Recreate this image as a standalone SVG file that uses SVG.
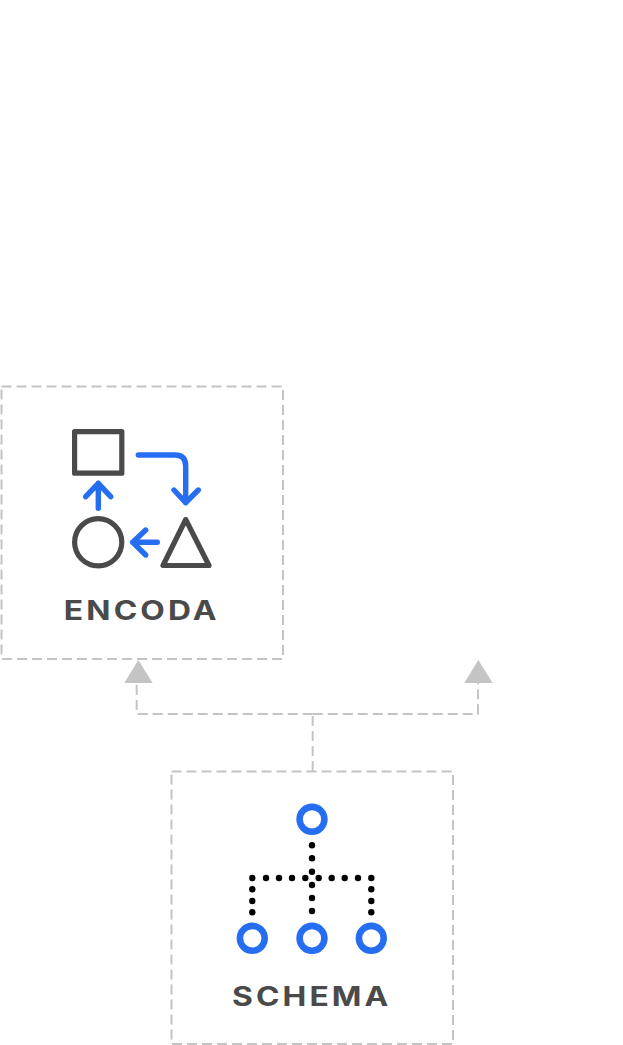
<svg xmlns="http://www.w3.org/2000/svg" width="623" height="1045" viewBox="0 0 623 1045">
<style>
.box{fill:none;stroke:#c4c4c4;stroke-width:2;stroke-dasharray:10 5}
.conn{fill:none;stroke:#c4c4c4;stroke-width:2;stroke-dasharray:10 5}
.head{fill:#c4c4c4}
.dark{fill:none;stroke:#4a4a4a;stroke-width:5.2;stroke-linejoin:round}
.blue{fill:none;stroke:#266ef1;stroke-width:5.4;stroke-linecap:round;stroke-linejoin:round}
.ring{fill:none;stroke:#266ef1;stroke-width:6.6}
.label{font-family:"Inter","Liberation Sans",sans-serif;font-weight:700;font-size:26.5px;fill:#4a4a4a;text-anchor:middle;letter-spacing:2.6px}
.dots circle{fill:#000;r:3.2px}
</style>
<rect width="623" height="1045" fill="#fff"/>
<g id="connectors">
<path class="conn" d="M312.7 771V714"/>
<path class="conn" d="M312.7 714H136.7V682"/>
<path class="conn" d="M312.7 714H478V682"/>
<polygon class="head" points="138.3,660 152.7,683 124.3,683"/>
<polygon class="head" points="478.3,660 492.7,683 464.3,683"/>
</g>
<g id="encoda">
<rect class="box" x="1.5" y="386.5" width="281.5" height="272.5"/>
<rect class="dark" x="74.6" y="431.6" width="47.2" height="41.6"/>
<circle class="dark" cx="98.2" cy="542.3" r="23.6"/>
<polygon class="dark" points="185.7,519.5 163,565.5 209,565.5"/>
<path class="blue" d="M138.3 455H175Q185.7 455 185.7 466V502.7M174 490L185.7 502.7L198.3 490"/>
<path class="blue" d="M98.3 508.3V483.3M85.7 496.7L98.3 483.3L110.7 496.7"/>
<path class="blue" d="M157.3 542.3H132.7M145.7 530L132.7 542.3L145.7 555"/>
<text class="label" transform="translate(141.7 620) scale(1.2 1)">ENCODA</text>
</g>
<g id="schema">
<rect class="box" x="171.5" y="771.5" width="281.5" height="272.5"/>
<circle class="ring" cx="312" cy="819.3" r="12.4"/>
<circle class="ring" cx="252.3" cy="938.3" r="12.4"/>
<circle class="ring" cx="312" cy="938.3" r="12.4"/>
<circle class="ring" cx="371.3" cy="938.3" r="12.4"/>
<g class="dots">
<circle cx="252.3" cy="878"/><circle cx="266" cy="878"/><circle cx="279" cy="878"/><circle cx="292" cy="878"/><circle cx="305.3" cy="878"/><circle cx="318.7" cy="878"/><circle cx="331.7" cy="878"/><circle cx="344.7" cy="878"/><circle cx="358" cy="878"/><circle cx="371.3" cy="878"/>
<circle cx="312" cy="845.3"/><circle cx="312" cy="858.3"/><circle cx="312" cy="871.7"/><circle cx="312" cy="885"/><circle cx="312" cy="898"/><circle cx="312" cy="911"/>
<circle cx="252.3" cy="889.3"/><circle cx="252.3" cy="901"/><circle cx="252.3" cy="912.3"/>
<circle cx="371.3" cy="889.3"/><circle cx="371.3" cy="901"/><circle cx="371.3" cy="912.3"/>
</g>
<text class="label" transform="translate(311.7 1006) scale(1.2 1)">SCHEMA</text>
</g>
</svg>
